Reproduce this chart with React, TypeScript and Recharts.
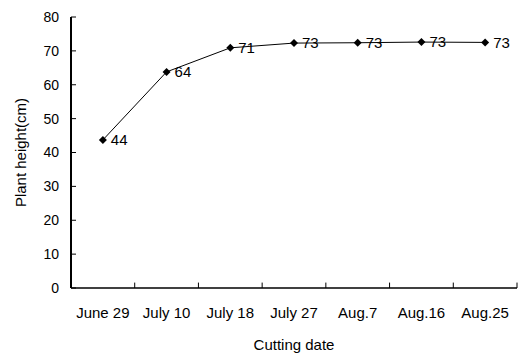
import { LineChart, Line, XAxis, YAxis, LabelList, ReferenceLine } from "recharts";

const dates = ["June 29", "July 10", "July 18", "July 27", "Aug.7", "Aug.16", "Aug.25"];
const heights = [43.7, 63.8, 70.9, 72.3, 72.4, 72.6, 72.5];
const printed = ["44", "64", "71", "73", "73", "73", "73"];
const yTicks = [0, 10, 20, 30, 40, 50, 60, 70, 80];
const bandEdges = [1.5, 2.5, 3.5, 4.5, 5.5, 6.5, 7.5];

const data = dates.map((d, i) => ({ idx: i + 1, date: d, height: heights[i], label: printed[i] }));

const Diamond = (props: any) => {
  const { cx, cy } = props;
  if (cx == null || cy == null) return null;
  const r = 4;
  return (
    <polygon
      points={`${cx},${cy - r} ${cx + r},${cy} ${cx},${cy + r} ${cx - r},${cy}`}
      fill="#000"
    />
  );
};

export default function App() {
  return (
    <div style={{ position: "absolute", left: 0, top: 0, fontFamily: "'Liberation Sans', Arial, sans-serif" }}>
      <LineChart width={518} height={358} data={data} margin={{ top: 17, right: 1, left: 0, bottom: 0 }}>
        <XAxis
          dataKey="idx"
          type="number"
          domain={[0.5, 7.5]}
          ticks={[1, 2, 3, 4, 5, 6, 7]}
          tickFormatter={(v: number) => dates[v - 1]}
          tickLine={false}
          tickSize={0}
          tickMargin={19}
          height={70}
          axisLine={{ stroke: "#000", strokeWidth: 1.5 }}
          tick={{ fill: "#000", fontSize: 15 }}
          label={{ value: "Cutting date", position: "insideBottom", offset: 8, fill: "#000", fontSize: 15 }}
        />
        <YAxis
          type="number"
          domain={[0, 80]}
          ticks={yTicks}
          width={71}
          tickSize={-5}
          tickMargin={17}
          tickLine={{ stroke: "#000" }}
          axisLine={{ stroke: "#000", strokeWidth: 2 }}
          tick={{ fill: "#000", fontSize: 14 }}
          label={{
            value: "Plant height(cm)",
            angle: -90,
            position: "insideLeft",
            offset: 21,
            fill: "#000",
            fontSize: 15,
            style: { textAnchor: "middle" },
          }}
        />
        {bandEdges.map((e) => (
          <ReferenceLine
            key={e}
            segment={[
              { x: e, y: 0 },
              { x: e, y: 1.6 },
            ]}
            stroke="#000"
          />
        ))}
        <Line
          type="linear"
          dataKey="height"
          stroke="#000"
          strokeWidth={1}
          dot={<Diamond />}
          activeDot={false}
          isAnimationActive={false}
        >
          <LabelList dataKey="label" position="right" offset={8} fill="#000" fontSize={15} />
        </Line>
      </LineChart>
    </div>
  );
}
